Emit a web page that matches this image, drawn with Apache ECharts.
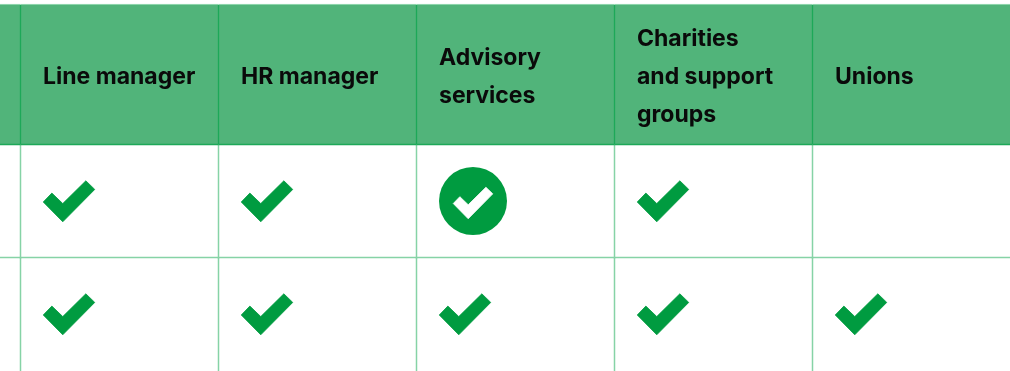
<!DOCTYPE html>
<html>
<head>
<meta charset="utf-8">
<style>
  html, body { margin: 0; padding: 0; background: #fff; }
  #chart { width: 1010px; height: 371px; }
</style>
<script src="https://cdn.jsdelivr.net/npm/echarts@6/dist/echarts.min.js"></script>
</head>
<body>
<div id="chart"></div>
<script>
// column headings, first entry is the cut off column on the left
const headers = ["", "Line manager", "HR manager", "Advisory\nservices", "Charities\nand support\ngroups", "Unions"];

// 0 = empty, 1 = tick, 2 = tick in a circle
const lineManager = [1, 1];
const hrManager = [1, 1];
const advisoryServices = [2, 1];
const charities = [1, 1];
const unions = [0, 1];
const columns = [lineManager, hrManager, advisoryServices, charities, unions];

const GREEN = "#009B40";
const HEADER_FILL = "#51B47A";
const HEADER_LINE = "#1DA858";
const CELL_LINE = "#86D3A6";
const TICK_PATH = "path://M0 21.4L8.7 12.4L19.7 23L43 0L52 8.7L19.7 41.4Z";
const COL_W = 198;
const ROW_H = 113;
const TICK_X = 48.5;   // tick centre from the left edge of a cell
const CIRCLE_X = 56.5;

const headerCells = headers.map((h, i) => [i - 1, h]);
const bodyCells = [];
const ticks = [];
const circles = [];
for (let c = -1; c < columns.length; c++) {
  for (let r = 0; r < 2; r++) {
    bodyCells.push([c, r]);
    const v = c >= 0 ? columns[c][r] : 0;
    if (v === 1) ticks.push([c, r + 0.5]);
    if (v === 2) circles.push([c, r + 0.5]);
  }
}

function renderHeader(params, api) {
  const c = api.value(0);
  const tl = api.coord([c, -1.235]);
  const br = api.coord([c + 1, 0]);
  const style = { stroke: HEADER_LINE, lineWidth: 1.3 };
  return {
    type: "group",
    children: [
      { type: "rect", shape: { x: tl[0], y: tl[1], width: br[0] - tl[0], height: br[1] - tl[1] }, style: { fill: HEADER_FILL } },
      { type: "line", shape: { x1: tl[0], y1: tl[1], x2: tl[0], y2: br[1] }, style: style },
      { type: "line", shape: { x1: tl[0], y1: br[1], x2: br[0], y2: br[1] }, style: style },
      { type: "line", shape: { x1: tl[0], y1: tl[1] - 0.5, x2: br[0], y2: tl[1] - 0.5 }, style: { stroke: CELL_LINE, lineWidth: 1 } },
      {
        type: "text",
        x: tl[0] + 22.5,
        y: (tl[1] + br[1]) / 2 + 2.5,
        style: {
          text: headers[c + 1],
          fill: "#0A0A0A",
          font: "700 23px Inter",
          lineHeight: 38,
          verticalAlign: "middle",
          align: "left"
        }
      }
    ]
  };
}

function renderCell(params, api) {
  const c = api.value(0), r = api.value(1);
  const tl = api.coord([c, r]);
  const br = api.coord([c + 1, r + 1]);
  const style = { stroke: CELL_LINE, lineWidth: 1.5 };
  const children = [
    { type: "line", shape: { x1: tl[0], y1: tl[1], x2: tl[0], y2: br[1] + 1 }, style: style }
  ];
  // the last row runs off the bottom of the picture, so only the first gets a rule
  if (r === 0) {
    children.push({ type: "line", shape: { x1: tl[0], y1: br[1], x2: br[0], y2: br[1] }, style: style });
  }
  return { type: "group", children: children };
}

const chart = echarts.init(document.getElementById("chart"), null, { renderer: "canvas" });
chart.setOption({
  animation: false,
  backgroundColor: "#fff",
  grid: { left: 0, right: 0, top: 0, bottom: 0 },
  xAxis: { type: "value", min: -20.5 / COL_W, max: 989.5 / COL_W, show: false },
  yAxis: { type: "value", inverse: true, min: -144.5 / ROW_H, max: 226.5 / ROW_H, show: false },
  series: [
    { type: "custom", data: bodyCells, renderItem: renderCell, encode: { x: 0, y: 1 }, silent: true },
    { type: "custom", data: headerCells, renderItem: renderHeader, encode: { x: 0 }, silent: true },
    {
      type: "scatter",
      data: ticks,
      symbol: TICK_PATH,
      symbolSize: [51.5, 41],
      symbolOffset: [TICK_X, 0.3],
      itemStyle: { color: GREEN, opacity: 1, borderColor: GREEN, borderWidth: 0.8 },
      silent: true
    },
    {
      type: "scatter",
      data: circles,
      symbol: "circle",
      symbolSize: 68,
      symbolOffset: [CIRCLE_X, 0],
      itemStyle: { color: GREEN, opacity: 1 },
      silent: true
    },
    {
      type: "scatter",
      data: circles,
      symbol: TICK_PATH,
      symbolSize: [39.5, 31.5],
      symbolOffset: [CIRCLE_X, 2],
      itemStyle: { color: "#fff", opacity: 1, borderColor: "#fff", borderWidth: 0.8 },
      silent: true,
      z: 3
    }
  ]
});
</script>
</body>
</html>
